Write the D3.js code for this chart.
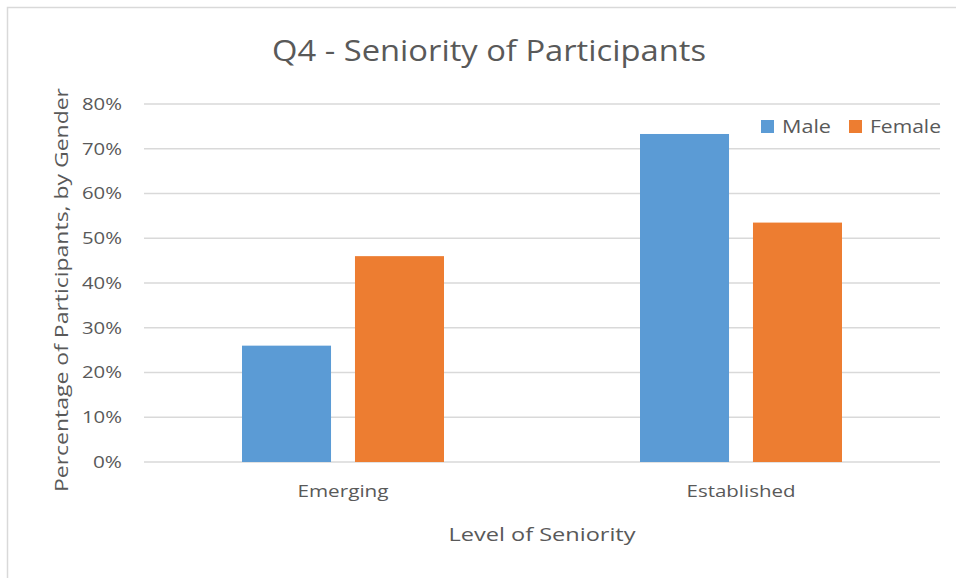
<!DOCTYPE html>
<html>
<head>
<meta charset="utf-8">
<script src="https://cdn.jsdelivr.net/npm/d3@7"></script>
<style>
  html, body { margin: 0; padding: 0; background: #fff; }
  svg text { font-family: "Open Sans", "Noto Sans", sans-serif; fill: #595959; }
</style>
</head>
<body>
<svg id="chart" width="956" height="578"></svg>
<script>
// Chart data
var categories = ['Emerging', 'Established'];
var series = ['Male', 'Female'];
var maleValues = [0.26, 0.733];
var femaleValues = [0.46, 0.535];
var yTicks = [0, 0.1, 0.2, 0.3, 0.4, 0.5, 0.6, 0.7, 0.8];
var colors = ['#5B9BD5', '#ED7D31'];

var svg = d3.select('#chart');
var W = 956, H = 578;
var margin = { left: 144, right: 16, top: 104, bottom: 116 };
var plotW = W - margin.left - margin.right;
var plotH = H - margin.top - margin.bottom;

// the source font is wider than anything installed, so stretch text to its measured width
function fit(sel, width) {
  sel.attr('textLength', width).attr('lengthAdjust', 'spacingAndGlyphs');
}

// outer frame (only top/left visible in the reference)
svg.append('path')
  .attr('d', 'M7.5,' + H + 'V7.5H' + W)
  .attr('fill', 'none')
  .attr('stroke', '#d9d9d9')
  .attr('stroke-width', 1.5);

var g = svg.append('g').attr('transform', 'translate(' + margin.left + ',' + margin.top + ')');

var y = d3.scaleLinear().domain([0, 0.8]).range([plotH, 0]);
var x0 = d3.scaleBand().domain(categories).range([0, plotW]).padding(0);
var groupOffset = 98;
var x1 = d3.scaleBand().domain(series)
  .range([groupOffset, x0.bandwidth() - groupOffset])
  .paddingInner(0.212).paddingOuter(0);

// gridlines
g.append('g')
  .selectAll('line')
  .data(yTicks)
  .join('line')
  .attr('x1', 0).attr('x2', plotW)
  .attr('y1', function (d) { return y(d); })
  .attr('y2', function (d) { return y(d); })
  .attr('stroke', '#d9d9d9')
  .attr('stroke-width', 1.5);

// y tick labels
var yAxis = d3.axisLeft(y).tickValues(yTicks).tickFormat(d3.format('.0%')).tickSize(0).tickPadding(22);
var ya = g.append('g').call(yAxis);
ya.select('.domain').remove();
ya.selectAll('text')
  .style('font-size', '17px')
  .attr('fill', '#595959')
  .each(function (d) { fit(d3.select(this), d === 0 ? 29 : 40); });

// bars
var rows = categories.map(function (c, i) {
  return { cat: c, vals: [maleValues[i], femaleValues[i]] };
});
var grp = g.selectAll('g.cat')
  .data(rows)
  .join('g')
  .attr('class', 'cat')
  .attr('transform', function (d) { return 'translate(' + x0(d.cat) + ',0)'; });
grp.selectAll('rect')
  .data(function (d) { return d.vals.map(function (v, j) { return { s: series[j], v: v, j: j }; }); })
  .join('rect')
  .attr('x', function (d) { return x1(d.s); })
  .attr('width', x1.bandwidth())
  .attr('y', function (d) { return y(d.v); })
  .attr('height', function (d) { return plotH - y(d.v); })
  .attr('fill', function (d) { return colors[d.j]; });

// x category labels
var catWidths = { Emerging: 91, Established: 109 };
var xAxis = d3.axisBottom(x0).tickSize(0).tickPadding(23);
var xa = g.append('g').attr('transform', 'translate(0,' + plotH + ')').call(xAxis);
xa.select('.domain').remove();
xa.selectAll('text')
  .style('font-size', '17px')
  .attr('fill', '#595959')
  .each(function (d) { fit(d3.select(this), catWidths[d]); });

// title
svg.append('text')
  .attr('x', 489).attr('y', 61)
  .attr('text-anchor', 'middle')
  .style('font-size', '29px')
  .text('Q4 - Seniority of Participants')
  .call(fit, 434);

// axis titles
svg.append('text')
  .attr('x', 542).attr('y', 541)
  .attr('text-anchor', 'middle')
  .style('font-size', '18px')
  .text('Level of Seniority')
  .call(fit, 187);

svg.append('text')
  .attr('transform', 'translate(68,290) rotate(-90)')
  .attr('text-anchor', 'middle')
  .style('font-size', '18px')
  .text('Percentage of Participants, by Gender')
  .call(fit, 404);

// legend
var legend = svg.append('g').attr('transform', 'translate(761,120)');
var legX = [0, 88];
var legW = [49, 71];
series.forEach(function (s, i) {
  var lg = legend.append('g').attr('transform', 'translate(' + legX[i] + ',0)');
  lg.append('rect').attr('width', 13).attr('height', 13).attr('fill', colors[i]);
  lg.append('text').attr('x', 21).attr('y', 13).style('font-size', '18px').text(s).call(fit, legW[i]);
});
</script>
</body>
</html>
